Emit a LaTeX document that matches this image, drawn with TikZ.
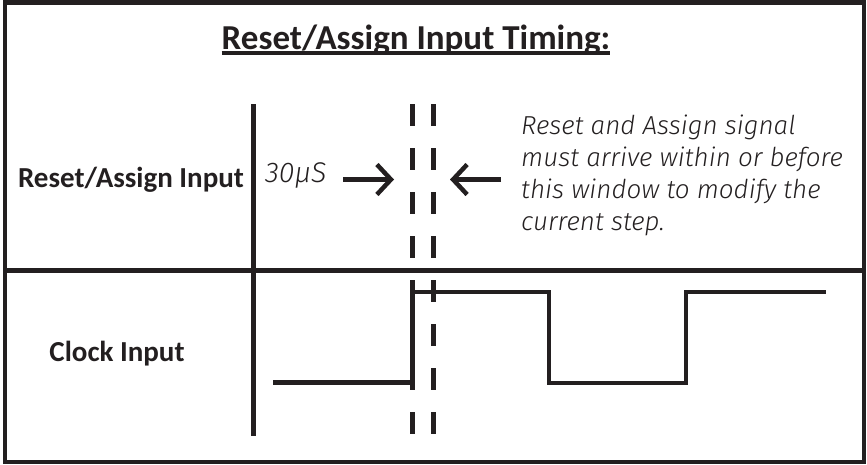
\documentclass[tikz,border=0pt]{standalone}
\usepackage{fontspec}
\setmainfont{Carlito}
\newfontfamily\notefont{Fira Sans}[UprightFont=* Light, ItalicFont=* Light Italic]
\usetikzlibrary{arrows.meta}
\definecolor{ink}{HTML}{231F20}

\begin{document}
\begin{tikzpicture}[x=1pt,y=-1pt,
  every node/.style={inner sep=0pt,text=ink},
  frame/.style={draw=ink,line width=4.5pt},
  rule/.style={draw=ink,line width=5pt},
  sig/.style={draw=ink,line width=4.6pt,line join=miter},
  window/.style={draw=ink,line width=5pt,dash pattern=on 22pt off 22pt},
  pointer/.style={draw=ink,line width=4.5pt,-{Straight Barb[length=14pt,width=30pt]}},
  label/.style={font=\bfseries\fontsize{29}{32}\selectfont,anchor=base},
  note/.style={font=\notefont\itshape\fontsize{26}{31.7}\selectfont,align=left,anchor=base west},
]
\useasboundingbox (0,0) rectangle (867,464);
% outer frame and the two rows
\draw[frame] (5.2,2.6) rectangle (864,462);
\draw[rule] (5,270) -- (864,270);
\draw[rule] (253,104) -- (253,436);

% title
\node[label,font=\bfseries\fontsize{35}{38}\selectfont] (title) at (416,49.3) {Reset/Assign Input Timing:};
\draw[draw=ink,line width=3.5pt] ([yshift=-3.7pt]title.base west) -- ([yshift=-3.7pt]title.base east);

% row labels
\node[label] (resetlbl) at (131,187.5) {Reset/Assign Input};
\node[label] (clocklbl) at (117,361.7) {Clock Input};

% sampling window
\draw[window] (412.5,104) -- (412.5,436);
\draw[window] (433.5,104) -- (433.5,436);

% clock waveform
\draw[sig] (273,382.5) -- (412.5,382.5) -- (412.5,292) -- (549,292)
  -- (549,383) -- (686,383) -- (686,292) -- (826,292);

% window width and note (base = last line)
\node[note,font=\notefont\itshape\fontsize{28.5}{30}\selectfont] (t30) at (265,182.5) {30µS};
\node[note] (hint) at (521,230) {Reset and Assign signal\\must arrive within or before\\this window to modify the\\current step.};
\coordinate (tailL) at (343,179.5);
\coordinate (inL) at (394,179.5);
\coordinate (tailR) at (501,179.5);
\coordinate (inR) at (450,179.5);
\draw[pointer] (tailL) -- (inL);
\draw[pointer] (tailR) -- (inR);
\end{tikzpicture}
\end{document}
